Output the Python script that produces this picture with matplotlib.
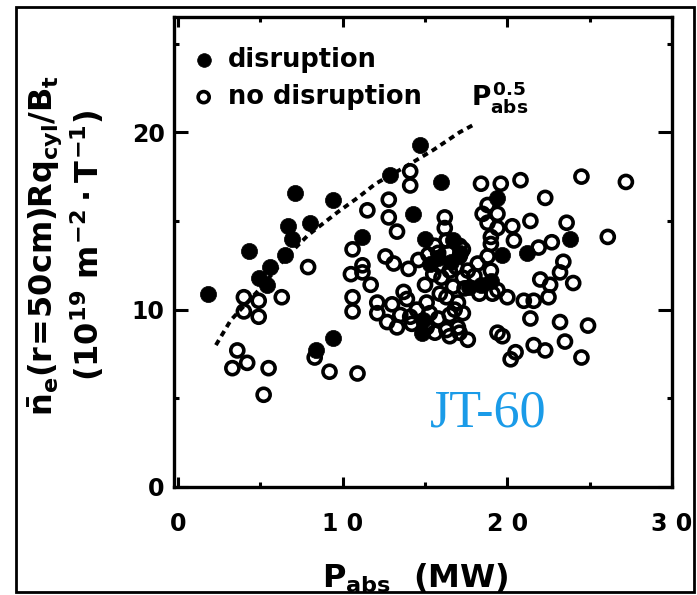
import matplotlib
matplotlib.use("Agg")
import matplotlib.pyplot as plt
from matplotlib.patches import Rectangle

plt.rcParams['font.family'] = ['DejaVu Sans']
plt.rcParams['font.weight'] = 'bold'
plt.rcParams['mathtext.fontset'] = 'custom'
plt.rcParams['mathtext.rm'] = 'DejaVu Sans:bold'
plt.rcParams['mathtext.it'] = 'DejaVu Sans:bold'
plt.rcParams['mathtext.bf'] = 'DejaVu Sans:bold'
plt.rcParams['mathtext.sf'] = 'DejaVu Sans:bold'

# ---- data ----
dis_x = [1.8, 4.3, 4.9, 5.4, 5.6, 6.5, 6.9, 6.7, 8.0, 7.1, 9.4, 9.4, 8.4,
         11.2, 12.9, 14.7, 16.0, 14.3, 15.0, 14.9, 14.8, 17.1, 16.6, 18.4,
         19.0, 17.7, 19.4, 19.7, 21.2, 23.8, 15.3, 16.7, 15.8]
dis_y = [10.9, 13.3, 11.8, 11.4, 12.4, 13.1, 14.0, 14.7, 14.9, 16.6, 16.2, 8.4, 7.7,
         14.1, 17.6, 19.3, 17.2, 15.4, 14.0, 9.4, 8.7, 13.2, 12.7, 11.4,
         11.6, 11.3, 16.3, 13.1, 13.2, 14.0, 12.6, 13.9, 12.9]

nd_x = [7.9, 4.0, 6.3, 4.9, 4.0, 4.9, 3.6, 3.3, 4.2, 5.5, 5.2, 8.3, 9.2, 10.9,
        10.6, 11.2, 10.5, 10.6, 10.6, 11.7,
        14.1, 14.1, 18.4, 19.6, 20.8, 24.5, 27.2, 22.3, 11.5, 12.8, 12.8, 13.3,
        16.2, 16.2, 18.8, 18.8, 19.0, 18.5, 19.4, 19.4, 20.3, 20.4, 21.4, 23.6,
        22.7, 21.9, 26.1, 19.0, 18.8, 19.0,
        12.6, 13.1, 14.0, 11.2, 15.6, 16.3, 17.1, 15.8, 15.2, 16.4, 17.1, 15.9,
        16.5, 17.6, 17.3, 17.4, 16.7, 19.4, 13.7, 13.9, 15.0, 15.1, 16.3, 15.9,
        12.1, 12.1, 13.5, 12.7, 14.2, 13.3, 15.1, 15.8, 16.5, 17.0, 16.5, 17.6,
        17.1, 19.4, 17.3, 16.9, 17.0, 17.3, 16.3, 14.1, 15.3,
        24.0, 22.0, 22.6, 23.2, 23.4, 21.6, 22.5, 21.4, 20.0, 21.0, 23.2, 24.9,
        19.7, 23.5, 21.6, 22.3, 20.5, 20.2, 24.5, 19.1,
        15.5, 16.0, 14.6, 18.2, 18.0, 14.5, 13.0, 16.8, 18.3, 15.6]
nd_y = [12.4, 10.7, 10.7, 10.5, 9.9, 9.6, 7.7, 6.7, 7.0, 6.7, 5.2, 7.3, 6.5, 6.4,
        13.4, 12.5, 12.0, 10.7, 9.9, 11.4,
        17.8, 17.0, 17.1, 17.1, 17.3, 17.5, 17.2, 16.3, 15.6, 16.2, 15.2, 14.4,
        15.2, 14.6, 15.9, 14.9, 14.1, 15.4, 15.4, 14.6, 14.7, 13.9, 15.0, 14.9,
        13.8, 13.5, 14.1, 13.7, 13.0, 12.2,
        13.0, 12.6, 12.3, 12.1, 13.6, 13.9, 13.6, 13.2, 13.1, 13.2, 13.0, 12.5,
        12.2, 12.2, 11.8, 11.2, 11.3, 11.1, 11.0, 10.6, 11.4, 10.4, 10.7, 10.9,
        10.4, 9.8, 9.7, 9.3, 9.2, 9.0, 9.0, 9.5, 9.7, 9.0, 8.5, 8.3,
        8.7, 8.7, 13.4, 12.4, 10.4, 9.8, 8.85, 9.6, 9.8,
        11.5, 11.7, 11.4, 12.1, 12.7, 10.5, 10.7, 9.5, 10.7, 10.5, 9.3, 9.1,
        8.5, 8.2, 8.0, 7.7, 7.6, 7.2, 7.3, 10.9,
        12.0, 11.8, 12.8, 12.6, 11.9, 10.0, 10.3, 10.0, 10.9, 8.7]

# dotted P^0.5 guide line
line_x = [2.3, 3.2, 5.0, 6.5, 7.9, 9.7, 10.9, 12.0, 13.7, 15.5, 17.1, 17.9]
line_y = [8.0, 9.4, 11.2, 12.9, 14.2, 15.5, 16.3, 17.1, 18.0, 19.0, 20.0, 20.4]

xticks = [0, 10, 20, 30]
xticklabels = ['0', '1 0', '2 0', '3 0']
yticks = [0, 10, 20]
yticklabels = ['0', '10', '20']

# ---- figure ----
W, H = 697, 595
fig = plt.figure(figsize=(W / 100, H / 100), dpi=100)
L, R, B, T = 174.4, 672, 487, 17
ax = fig.add_axes([L / W, (H - B) / H, (R - L) / W, (B - T) / H])

ax.plot(line_x, line_y, color='black', lw=2.8, linestyle=(0, (1.5, 1.2)),
        zorder=1)
ax.scatter(nd_x, nd_y, s=88, facecolors='none', edgecolors='black',
           linewidths=2.6, zorder=2, label='no disruption')
ax.scatter(dis_x, dis_y, s=135, facecolors='black', edgecolors='black',
           linewidths=0.5, zorder=3, label='disruption')

ax.set_xlim(-0.22, 30)
ax.set_ylim(0, 26.5)

ax.set_xticks(xticks)
ax.set_xticklabels(xticklabels)
ax.set_yticks(yticks)
ax.set_yticklabels(yticklabels)
ax.set_xticks([5, 15, 25], minor=True)
ax.set_yticks([5, 15, 25], minor=True)
ax.tick_params(which='both', direction='in', top=True, right=True, width=2.2)
ax.tick_params(axis='y', which='major', length=10, pad=7, labelsize=17)
ax.tick_params(axis='x', which='major', length=7, pad=18, labelsize=17)
ax.tick_params(which='minor', length=3.5)
for lab in ax.get_xticklabels() + ax.get_yticklabels():
    lab.set_fontweight('bold')
for sp in ax.spines.values():
    sp.set_linewidth(2.4)

# legend
h, l = ax.get_legend_handles_labels()
leg = ax.legend(h[::-1], l[::-1], loc='upper left',
                bbox_to_anchor=(0.033, 0.936), frameon=False, fontsize=18.5,
                borderpad=0, borderaxespad=0, handlelength=1.0,
                handletextpad=0.45, labelspacing=0.42, scatterpoints=1,
                markerscale=0.85)
for t in leg.get_texts():
    t.set_fontweight('bold')

# guide label
ax.text(17.8, 22.0, r'$P_{abs}^{0.5}$', fontsize=19, ha='left', va='center')

# JT-60 annotation
ax.text(15.3, 3.4, 'JT-60', fontsize=37.5, color='#1a9be8',
        family=['Liberation Serif', 'DejaVu Serif'], fontweight='normal',
        ha='left', va='baseline')

# axis labels
ax.set_xlabel(r'$P_{abs}$  (MW)', fontsize=23, fontweight='bold')
ax.xaxis.set_label_coords((415 - L) / (R - L), (B - 562) / (B - T))

ax.set_ylabel(r'$\bar{n}_e(r\!=\!50cm)Rq_{cyl}/B_t$' + '\n' +
              r'$(10^{19}\ m^{-2}\cdot T^{-1})$', fontsize=23,
              fontweight='bold', linespacing=1.15)
ax.yaxis.label.set_rotation_mode('default')
ax.yaxis.label.set_va('center')
ax.yaxis.label.set_ha('center')
ax.yaxis.set_label_coords((66 - L) / (R - L), (B - 245) / (B - T))

# outer border of the figure image
fig.patches.append(Rectangle((16 / W, 3 / H), (694 - 16) / W, (588 - 3) / H,
                             transform=fig.transFigure, fill=False,
                             edgecolor='black', lw=2.0))

fig.savefig('out.png', dpi=100)
